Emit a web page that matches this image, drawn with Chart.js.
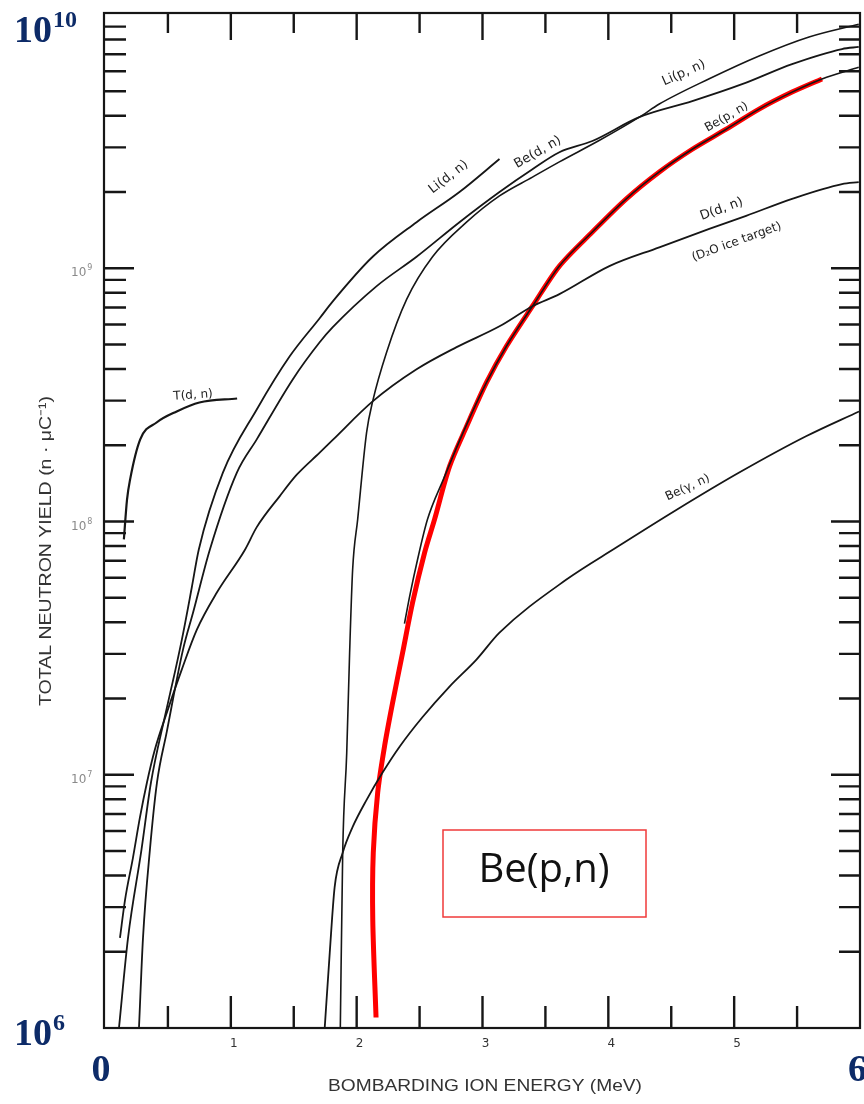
<!DOCTYPE html>
<html>
<head>
<meta charset="utf-8">
<script src="https://cdn.jsdelivr.net/npm/chart.js@4.4.1/dist/chart.umd.min.js"></script>
<style>
  html, body { margin: 0; padding: 0; background: #fff; }
  canvas { display: block; }
</style>
</head>
<body>
<canvas id="yieldChart" width="864" height="1104"></canvas>
<script>
// ===== DATA (energy in MeV, yield in n/uC) =====
const tdnE  = [0.15, 0.175, 0.2, 0.28, 0.41, 0.57, 0.75, 1.05];
const tdnY  = [8.5e7, 1.22e8, 1.47e8, 2.11e8, 2.46e8, 2.72e8, 2.95e8, 3.06e8];

const lidnE = [0.111, 0.183, 0.29, 0.365, 0.476, 0.56, 0.62, 0.69, 0.745, 0.937, 1.206, 1.468, 1.706, 1.81, 2.127, 2.476, 2.817, 3.135];
const lidnY = [1e6, 2.27e6, 5.06e6, 9.3e6, 1.7e7, 2.6e7, 3.6e7, 5.5e7, 7.74e7, 1.56e8, 2.77e8, 4.49e8, 6.35e8, 7.4e8, 1.11e9, 1.52e9, 2.0e9, 2.7e9];

const bednE = [0.27, 0.302, 0.357, 0.413, 0.49, 0.62, 0.70, 0.833, 1.048, 1.206, 1.492, 1.706, 1.81, 2.159, 2.476, 2.817, 3.135, 3.397, 3.611, 3.873, 4.246, 4.667, 5.063, 5.46, 5.857, 5.99];
const bednY = [1e6, 2.27e6, 5.06e6, 9.3e6, 1.47e7, 3.12e7, 4.37e7, 7.74e7, 1.56e8, 2.11e8, 3.64e8, 5.1e8, 5.85e8, 8.5e8, 1.11e9, 1.52e9, 2.0e9, 2.46e9, 2.87e9, 3.18e9, 3.95e9, 4.57e9, 5.33e9, 6.4e9, 7.34e9, 7.48e9];

const lipnE = [1.87, 1.889, 1.921, 1.944, 1.968, 2.008, 2.079, 2.127, 2.238, 2.397, 2.603, 2.873, 3.135, 3.397, 3.611, 3.93, 4.246, 4.405, 4.802, 5.198, 5.595, 5.99];
const lipnY = [1e6, 4.92e6, 1.22e7, 3.03e7, 6.46e7, 1.02e8, 2.25e8, 2.98e8, 4.66e8, 7.53e8, 1.11e9, 1.52e9, 1.93e9, 2.29e9, 2.63e9, 3.2e9, 3.95e9, 4.45e9, 5.6e9, 6.89e9, 8.19e9, 9.2e9];

const ddnE  = [0.119, 0.159, 0.222, 0.278, 0.333, 0.397, 0.49, 0.61, 0.73, 0.889, 1.11, 1.206, 1.389, 1.524, 1.706, 1.81, 2.127, 2.476, 2.794, 3.135, 3.397, 3.611, 4.008, 4.405, 4.802, 5.095, 5.46, 5.857, 5.99];
const ddnY  = [2.27e6, 3.2e6, 4.7e6, 6.8e6, 9.3e6, 1.26e7, 1.75e7, 2.6e7, 3.74e7, 5.24e7, 7.7e7, 9.5e7, 1.26e8, 1.53e8, 1.87e8, 2.1e8, 2.98e8, 3.99e8, 4.88e8, 5.9e8, 7.08e8, 7.9e8, 1.02e9, 1.21e9, 1.43e9, 1.61e9, 1.88e9, 2.15e9, 2.19e9];

const bepnE = [2.38, 2.421, 2.484, 2.563, 2.69, 2.857, 3.032, 3.19, 3.397, 3.611, 3.873, 4.143, 4.405, 4.667, 4.937, 5.198, 5.46, 5.698, 5.99];
const bepnY = [3.95e7, 5.06e7, 7.08e7, 1.02e8, 1.47e8, 2.31e8, 3.54e8, 4.92e8, 7.08e8, 1.02e9, 1.39e9, 1.88e9, 2.4e9, 2.95e9, 3.54e9, 4.25e9, 4.96e9, 5.59e9, 6.22e9];

// red highlight drawn over Be(p,n)
const redE  = [2.154, 2.128, 2.132, 2.167, 2.222, 2.286, 2.365, 2.444, 2.54, 2.619, 2.738, 2.873, 3.032, 3.19, 3.397, 3.611, 3.873, 4.143, 4.405, 4.667, 4.937, 5.198, 5.46, 5.698];
const redY  = [1.1e6, 2.67e6, 4.92e6, 8.5e6, 1.3e7, 1.93e7, 3.03e7, 4.78e7, 7.54e7, 1.02e8, 1.65e8, 2.37e8, 3.54e8, 4.92e8, 7.08e8, 1.02e9, 1.39e9, 1.88e9, 2.4e9, 2.95e9, 3.54e9, 4.25e9, 4.96e9, 5.59e9];

const begnE = [1.746, 1.786, 1.825, 1.889, 1.968, 2.079, 2.206, 2.341, 2.524, 2.738, 2.952, 3.135, 3.667, 4.063, 4.54, 5.04, 5.571, 5.992];
const begnY = [1e6, 1.98e6, 3.6e6, 4.92e6, 6.22e6, 7.96e6, 1.02e7, 1.29e7, 1.69e7, 2.23e7, 2.85e7, 3.64e7, 5.9e7, 7.89e7, 1.11e8, 1.56e8, 2.17e8, 2.72e8];

// ===== AXES =====
const xMajor = [1, 2, 3, 4, 5];
const xMinor = [0.5, 1.5, 2.5, 3.5, 4.5, 5.5];
const xTickLabels = ["1", "2", "3", "4", "5"];
const yMajor = [1e7, 1e8, 1e9];
const yMajorExp = ["7", "8", "9"];

// curve captions, anchored in data space
const captions = [
  { text: "T(d, n)",          e: 0.70,  y: 3.15e8, rot: -4,  size: 12 },
  { text: "Li(d, n)",         e: 2.73,  y: 2.29e9, rot: -38, size: 13 },
  { text: "Be(d, n)",         e: 3.44,  y: 2.87e9, rot: -30, size: 13 },
  { text: "Li(p, n)",         e: 4.6,   y: 5.9e9,  rot: -24, size: 13 },
  { text: "Be(p, n)",         e: 4.94,  y: 3.95e9, rot: -30, size: 12 },
  { text: "D(d, n)",          e: 4.9,   y: 1.71e9, rot: -20, size: 13 },
  { text: "(D\u2082O ice target)", e: 5.02, y: 1.27e9, rot: -20, size: 12 },
  { text: "Be(\u03b3, n)",    e: 4.63,  y: 1.36e8, rot: -25, size: 12 }
];

const NAVY = "#0d2b68";
const INK = "#161616";

function pts(es, ys) {
  return es.map((e, i) => ({ x: e, y: ys[i] }));
}

function curve(label, es, ys, color, width, smooth) {
  const ds = {
    label: label,
    data: pts(es, ys),
    borderColor: color,
    borderWidth: width,
    pointRadius: 0,
    fill: false
  };
  if (smooth === "monotone") ds.cubicInterpolationMode = "monotone";
  else ds.tension = 0.3;
  return ds;
}

function fitText(ctx, txt, cx, cy, w) {
  const m = ctx.measureText(txt).width;
  ctx.save();
  ctx.translate(cx, cy);
  ctx.scale(w / m, 1);
  ctx.textAlign = "center";
  ctx.fillText(txt, 0, 0);
  ctx.restore();
}

function power(ctx, base, exp, x, y, size, supSize, rise, font, color) {
  ctx.fillStyle = color;
  ctx.textAlign = "left";
  ctx.textBaseline = "alphabetic";
  ctx.font = font.replace("{s}", size);
  ctx.fillText(base, x, y);
  const w = ctx.measureText(base).width;
  ctx.font = font.replace("{s}", supSize);
  ctx.fillText(exp, x + w + 1, y - rise);
}

// ===== FRAME, INWARD TICKS, TEXT =====
const figurePlugin = {
  id: "figure",
  afterDatasetsDraw(chart) {
    const ctx = chart.ctx;
    const a = chart.chartArea;
    const xs = chart.scales.x;
    const ys = chart.scales.y;

    ctx.save();
    ctx.strokeStyle = INK;
    ctx.lineWidth = 2.2;
    ctx.strokeRect(a.left - 1, a.top - 2, a.right - a.left + 1, a.bottom - a.top + 2);

    ctx.lineWidth = 2.4;
    ctx.beginPath();
    // x ticks, bottom and top
    xMajor.forEach(v => {
      const px = xs.getPixelForValue(v);
      ctx.moveTo(px, a.bottom); ctx.lineTo(px, a.bottom - 32);
      ctx.moveTo(px, a.top - 2); ctx.lineTo(px, a.top + 25);
    });
    xMinor.forEach(v => {
      const px = xs.getPixelForValue(v);
      ctx.moveTo(px, a.bottom); ctx.lineTo(px, a.bottom - 22);
      ctx.moveTo(px, a.top - 2); ctx.lineTo(px, a.top + 18);
    });
    // y ticks, left and right
    for (let k = 6; k < 10; k++) {
      for (let m = 1; m < 10; m++) {
        const v = m * Math.pow(10, k);
        if (v <= 1e6) continue;
        const py = ys.getPixelForValue(v);
        const len = m === 1 ? 29 : 21;
        ctx.moveTo(a.left, py); ctx.lineTo(a.left + len, py);
        ctx.moveTo(a.right, py); ctx.lineTo(a.right - len, py);
      }
    }
    ctx.stroke();

    // tick labels
    ctx.fillStyle = "#333";
    ctx.font = "12px 'DejaVu Sans'";
    ctx.textAlign = "center";
    ctx.textBaseline = "middle";
    xMajor.forEach((v, i) => {
      ctx.fillText(xTickLabels[i], xs.getPixelForValue(v) + 3, a.bottom + 16);
    });
    yMajor.forEach((v, i) => {
      const py = ys.getPixelForValue(v);
      power(ctx, "10", yMajorExp[i], 71, py + 8, 12, 8, 6, "{s}px 'DejaVu Sans'", "#8a8a8a");
    });

    // axis titles
    ctx.fillStyle = "#333";
    ctx.font = "17px 'Liberation Sans'";
    ctx.textBaseline = "middle";
    fitText(ctx, "BOMBARDING ION ENERGY (MeV)", 485, 1086, 314);
    ctx.save();
    ctx.translate(46, 551);
    ctx.rotate(-Math.PI / 2);
    fitText(ctx, "TOTAL NEUTRON YIELD (n \u00b7 \u03bcC\u207b\u00b9)", 0, 0, 310);
    ctx.restore();

    // curve captions
    ctx.fillStyle = "#222";
    captions.forEach(c => {
      ctx.save();
      ctx.translate(xs.getPixelForValue(c.e), ys.getPixelForValue(c.y));
      ctx.rotate(c.rot * Math.PI / 180);
      ctx.font = c.size + "px 'DejaVu Sans'";
      ctx.textAlign = "center";
      ctx.textBaseline = "middle";
      ctx.fillText(c.text, 0, 0);
      ctx.restore();
    });

    // highlight box
    ctx.strokeStyle = "#f03a3a";
    ctx.lineWidth = 1.5;
    ctx.strokeRect(443, 830, 203, 87);
    ctx.fillStyle = "#111";
    ctx.font = "40px 'Open Sans'";
    ctx.textAlign = "center";
    ctx.textBaseline = "middle";
    ctx.fillText("Be(p,n)", 544, 871);

    // navy range marks
    const serif = "bold {s}px 'Liberation Serif'";
    power(ctx, "10", "10", 14, 42, 38, 24, 15, serif, NAVY);
    power(ctx, "10", "6", 14, 1045, 38, 24, 15, serif, NAVY);
    ctx.font = "bold 38px 'Liberation Serif'";
    ctx.textAlign = "center";
    ctx.fillText("0", 101, 1081);
    ctx.textAlign = "left";
    ctx.fillText("6", 848, 1081);
    ctx.restore();
  }
};

new Chart(document.getElementById("yieldChart"), {
  type: "line",
  data: {
    datasets: [
      curve("T(d,n)",  tdnE,  tdnY,  INK, 2.2, "monotone"),
      curve("Li(d,n)", lidnE, lidnY, INK, 1.8, "monotone"),
      curve("Be(d,n)", bednE, bednY, INK, 1.8, "monotone"),
      curve("Li(p,n)", lipnE, lipnY, INK, 1.6, "monotone"),
      curve("D(d,n)",  ddnE,  ddnY,  INK, 1.8, "monotone"),
      curve("Be(p,n)", bepnE, bepnY, INK, 1.6, "monotone"),
      curve("Be(g,n)", begnE, begnY, INK, 1.8, "monotone"),
      curve("Be(p,n) highlight", redE, redY, "#ff0000", 5, "bezier")
    ]
  },
  options: {
    responsive: false,
    animation: false,
    layout: { padding: { left: 105, right: 4, top: 15, bottom: 76 } },
    plugins: { legend: { display: false }, tooltip: { enabled: false } },
    scales: {
      x: { type: "linear", min: 0, max: 6, display: false },
      y: { type: "logarithmic", min: 1e6, max: 1e10, display: false }
    }
  },
  plugins: [figurePlugin]
});
</script>
</body>
</html>
